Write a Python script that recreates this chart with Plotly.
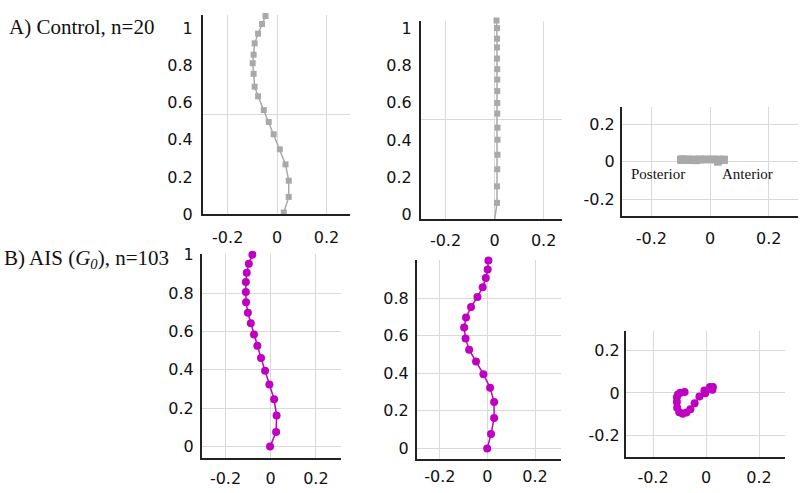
import plotly.graph_objects as go

# Control group (n=20): normalised height vs anterior-posterior and lateral offsets
ctrl_height_ap = [1.066, 1.023, 0.971, 0.919, 0.858, 0.812, 0.755, 0.686, 0.634,
                  0.560, 0.496, 0.430, 0.349, 0.268, 0.180, 0.093, 0.009]
ctrl_ap = [-0.047, -0.061, -0.077, -0.091, -0.095, -0.099, -0.095, -0.091, -0.077,
           -0.054, -0.034, -0.014, 0.011, 0.034, 0.047, 0.047, 0.027]
ctrl_height_lat = [1.043, 1.002, 0.945, 0.898, 0.838, 0.781, 0.725, 0.663, 0.599,
                   0.542, 0.466, 0.401, 0.320, 0.242, 0.150, 0.061, -0.031]
ctrl_lat = [0.008, 0.010, 0.010, 0.010, 0.010, 0.011, 0.011, 0.011, 0.011,
            0.011, 0.012, 0.012, 0.012, 0.011, 0.010, 0.010, 0.000]

# AIS group (n=103)
ais_height = [1.0, 0.952, 0.906, 0.857, 0.806, 0.752, 0.697, 0.643, 0.584,
              0.525, 0.462, 0.395, 0.323, 0.247, 0.162, 0.076, 0.0]
ais_ap = [-0.081, -0.097, -0.106, -0.110, -0.110, -0.109, -0.101, -0.088, -0.074,
          -0.059, -0.043, -0.025, -0.006, 0.015, 0.026, 0.024, -0.003]
ais_lat = [0.004, 0.001, -0.007, -0.020, -0.042, -0.069, -0.090, -0.098, -0.092,
           -0.077, -0.048, -0.017, 0.011, 0.028, 0.028, 0.015, -0.001]

W, H = 800, 493
GRAY = '#a9a9a9'
MAG = '#c000c0'
GRID = '#d9d9d9'
tick_font = dict(family='DejaVu Sans', size=16, color='#111111')


def px_dom_x(a, b):
    return [a / W, b / W]


def px_dom_y(top, bottom):
    return [1 - bottom / H, 1 - top / H]


fig = go.Figure()

panels = [
    # x data, y data, colour, symbol, size
    (ctrl_ap, ctrl_height_ap, GRAY, 'square', 6),
    (ctrl_lat, ctrl_height_lat, GRAY, 'square', 6),
    (ctrl_ap, ctrl_lat, GRAY, 'square', 8),
    (ais_ap, ais_height, MAG, 'circle', 8),
    (ais_lat, ais_height, MAG, 'circle', 8),
    (ais_ap, ais_lat, MAG, 'circle', 8),
]
for i, (xs, ys, col, sym, sz) in enumerate(panels, start=1):
    fig.add_trace(go.Scatter(
        x=xs, y=ys, mode='lines+markers',
        line=dict(color=col, width=1.5),
        marker=dict(color=col, symbol=sym, size=sz),
        xaxis='x' if i == 1 else 'x%d' % i,
        yaxis='y' if i == 1 else 'y%d' % i,
        cliponaxis=False, showlegend=False,
    ))

# pixel boxes, ranges and label offsets of each panel
boxes = {
    1: dict(x=(203, 350), y=(7, 214), xr=[-0.30, 0.295], yr=[0, 1.073], xs=8, ys=5),
    2: dict(x=(421, 562), y=(13, 219), xr=[-0.30, 0.275], yr=[-0.026, 1.043], xs=6, ys=4),
    3: dict(x=(622, 798), y=(103, 216), xr=[-0.30, 0.30], yr=[-0.29, 0.29], xs=7, ys=2),
    4: dict(x=(202, 341), y=(255, 467), xr=[-0.304, 0.311], yr=[-0.059, 1.005], xs=5, ys=3),
    5: dict(x=(417, 561), y=(262, 468), xr=[-0.296, 0.309], yr=[-0.056, 1.0], xs=2, ys=3),
    6: dict(x=(626, 785), y=(335, 466), xr=[-0.302, 0.298], yr=[-0.30, 0.291], xs=5, ys=1),
}

layout = {}
for i, b in boxes.items():
    xn = 'xaxis' if i == 1 else 'xaxis%d' % i
    yn = 'yaxis' if i == 1 else 'yaxis%d' % i
    xa = 'x' if i == 1 else 'x%d' % i
    ya = 'y' if i == 1 else 'y%d' % i
    common = dict(showline=True, linecolor='#222222', linewidth=2, zeroline=False,
                  gridcolor=GRID, gridwidth=1, tickfont=tick_font, ticks='',
                  fixedrange=True)
    layout[xn] = dict(common, domain=px_dom_x(*b['x']), range=b['xr'], anchor=ya,
                      tickvals=[-0.2, 0, 0.2], ticktext=['-0.2', '0', '0.2'],
                      ticklabelstandoff=b['xs'])
    if i in (1, 2):
        yax = dict(tickvals=[0, 0.2, 0.4, 0.6, 0.8, 1], ticktext=['0', '0.2', '0.4', '0.6', '0.8', '1'],
                   showgrid=False,
                   minor=dict(tickvals=[0.539 if i == 1 else 0.508, b['yr'][1]],
                              showgrid=True, gridcolor=GRID, ticks=''))
    elif i == 4:
        yax = dict(tickvals=[0, 0.2, 0.4, 0.6, 0.8, 1], ticktext=['0', '0.2', '0.4', '0.6', '0.8', '1'])
    elif i == 5:
        yax = dict(tickvals=[0, 0.2, 0.4, 0.6, 0.8], ticktext=['0', '0.2', '0.4', '0.6', '0.8'])
    else:
        yax = dict(tickvals=[-0.2, 0, 0.2], ticktext=['-0.2', '0', '0.2'])
    layout[yn] = dict(common, domain=px_dom_y(*b['y']), range=b['yr'], anchor=xa,
                      ticklabelstandoff=b['ys'], **yax)

fig.update_layout(
    width=W, height=H,
    margin=dict(l=0, r=0, t=0, b=0),
    paper_bgcolor='white', plot_bgcolor='white',
    **layout,
)

serif = dict(family='Liberation Serif', size=21, color='#111111')
fig.add_annotation(text='A) Control, n=20', xref='paper', yref='paper',
                   x=7 / W, y=1 - 20 / H, xanchor='left', yanchor='middle',
                   showarrow=False, font=serif)
fig.add_annotation(text='B) AIS (<i>G<sub>0</sub></i>), n=103', xref='paper', yref='paper',
                   x=2 / W, y=1 - 260 / H, xanchor='left', yanchor='middle',
                   showarrow=False, font=serif)
fig.add_annotation(text='Posterior', xref='x3', yref='y3', x=-0.178, y=-0.064,
                   showarrow=False, font=dict(family='Liberation Serif', size=15, color='#111111'))
fig.add_annotation(text='Anterior', xref='x3', yref='y3', x=0.127, y=-0.064,
                   showarrow=False, font=dict(family='Liberation Serif', size=15, color='#111111'))

# remove the default page margin so the 800x493 figure fills the window exactly
fig.write_html("out.html", config={'displayModeBar': False},
               post_script="document.body.style.margin='0';")
